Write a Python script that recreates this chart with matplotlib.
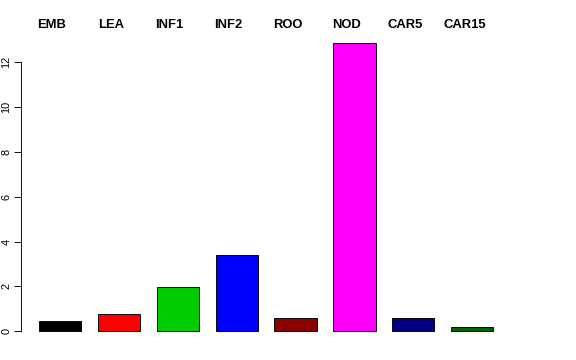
import numpy as np
import matplotlib
matplotlib.use("Agg")
import matplotlib.pyplot as plt

### Data
tissues = ["EMB", "LEA", "INF1", "INF2", "ROO", "NOD", "CAR5", "CAR15"]
values = [0.47, 0.76, 1.97, 3.39, 0.61, 12.86, 0.58, 0.18]
colors = ["black", "red", "#00CD00", "blue", "#8B0000", "magenta", "#000080", "#006400"]
yticks = [0, 2, 4, 6, 8, 10, 12]

plt.rcParams["font.family"] = ["Liberation Sans", "DejaVu Sans"]

fig = plt.figure(figsize=(8, 5), dpi=72)
# plot region in pixels (R style barplot, 4% axis padding)
ax = fig.add_axes([20.5 / 576, (360 - 342.8) / 360, (511.6 - 20.5) / 576, (342.8 - 31.3) / 360])

space = 0.4
x = space + 0.5 + (1 + space) * np.arange(len(values))
ax.bar(x, values, width=1.0, color=colors, edgecolor="black", linewidth=0.9)

xmin, xmax = space, x[-1] + 0.5
pad = 0.04 * (xmax - xmin)
ax.set_xlim(xmin - pad, xmax + pad)
ymax = max(values)
ax.set_ylim(-0.04 * ymax, ymax * 1.04)

# labels above the bars
for xi, name in zip(x, tissues):
    ax.text(xi - 0.19, 1.0, name, transform=ax.get_xaxis_transform(),
            ha="center", va="bottom", fontsize=13, fontweight="bold")

for s in ["top", "right", "bottom"]:
    ax.spines[s].set_visible(False)
ax.spines["left"].set_bounds(0, 12)
ax.spines["left"].set_linewidth(0.9)
ax.set_xticks([])
ax.set_yticks(yticks)
ax.set_yticklabels([str(t) for t in yticks], rotation=90, va="center", fontsize=11)
ax.tick_params(axis="y", length=7, width=0.9, pad=2)

fig.savefig("out.png", dpi=72)
